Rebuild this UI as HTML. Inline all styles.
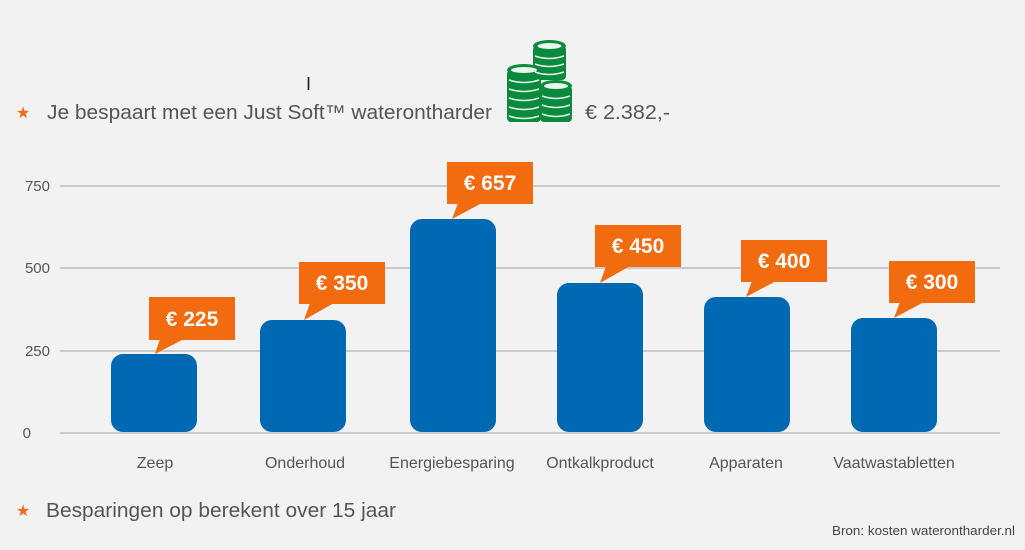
<!DOCTYPE html>
<html><head><meta charset="utf-8"><style>
html,body{margin:0;padding:0;background:#f2f2f2;}
svg{display:block;font-family:"Liberation Sans",Arial,sans-serif;}
</style></head><body>
<svg width="1025" height="550" viewBox="0 0 1025 550" xmlns="http://www.w3.org/2000/svg">
<rect width="1025" height="550" fill="#f2f2f2"/>
<!-- header -->
<text x="16" y="118" font-size="16" fill="#f26b1d">★</text>
<text x="47" y="119" font-size="20" fill="#555" textLength="445" lengthAdjust="spacingAndGlyphs">Je bespaart met een Just Soft™ waterontharder</text>
<text x="585" y="119" font-size="20" fill="#555" textLength="85" lengthAdjust="spacingAndGlyphs">€ 2.382,-</text>
<!-- cursor -->
<text x="306" y="90" font-size="18" fill="#222">I</text>
<!-- coins -->
<g fill="#0a8a3c">
  <rect x="533" y="46" width="33" height="34" rx="4"/>
  <ellipse cx="549.5" cy="46" rx="16.5" ry="6"/>
  <rect x="507" y="70" width="34" height="52" rx="4"/>
  <ellipse cx="524" cy="70" rx="17" ry="6"/>
  <rect x="540" y="86" width="32" height="36" rx="4"/>
  <ellipse cx="556" cy="86" rx="16" ry="6"/>
</g>
<g fill="#e8f5ec">
  <ellipse cx="549.5" cy="46" rx="12" ry="3"/>
  <ellipse cx="524" cy="70" rx="13" ry="3"/>
  <ellipse cx="556" cy="86" rx="12" ry="3"/>
</g>
<g stroke="#e8f5ec" stroke-width="1.5" fill="none">
  <path d="M535 56 Q549 61 564 56 M535 64 Q549 69 564 64 M535 72 Q549 77 564 72"/>
  <path d="M509 80 Q524 85 539 80 M509 89 Q524 94 539 89 M509 98 Q524 103 539 98 M509 107 Q524 112 539 107 M509 116 Q524 121 539 116"/>
  <path d="M542 96 Q556 101 570 96 M542 105 Q556 110 570 105 M542 114 Q556 119 570 114"/>
</g>
<!-- grid -->
<g stroke="#bdbdbd" stroke-width="1.5">
  <line x1="60" y1="186" x2="1000" y2="186"/>
  <line x1="60" y1="268" x2="1000" y2="268"/>
  <line x1="60" y1="351" x2="1000" y2="351"/>
  <line x1="60" y1="433" x2="1000" y2="433"/>
</g>
<g font-size="15" fill="#555" text-anchor="end">
  <text x="50" y="191">750</text>
  <text x="50" y="273">500</text>
  <text x="50" y="356">250</text>
  <text x="31" y="438">0</text>
</g>
<!-- bars -->
<g fill="#0069b4">
  <rect x="111" y="354" width="86" height="78" rx="12"/>
  <rect x="260" y="320" width="86" height="112" rx="12"/>
  <rect x="410" y="219" width="86" height="213" rx="12"/>
  <rect x="557" y="283" width="86" height="149" rx="12"/>
  <rect x="704" y="297" width="86" height="135" rx="12"/>
  <rect x="851" y="318" width="86" height="114" rx="12"/>
</g>
<!-- callouts -->
<g fill="#f26b0f">
  <rect x="149" y="297" width="86" height="43"/><polygon points="160,339 184,339 155,354"/>
  <rect x="299" y="262" width="86" height="42"/><polygon points="310,303 334,303 304,320"/>
  <rect x="447" y="162" width="86" height="42"/><polygon points="458,203 482,203 452,219"/>
  <rect x="595" y="225" width="86" height="42"/><polygon points="606,266 630,266 600,283"/>
  <rect x="741" y="240" width="86" height="42"/><polygon points="752,281 776,281 746,297"/>
  <rect x="889" y="261" width="86" height="42"/><polygon points="900,302 924,302 894,318"/>
</g>
<g font-size="21" font-weight="bold" fill="#fff" text-anchor="middle">
  <text x="192" y="326">€ 225</text>
  <text x="342" y="290">€ 350</text>
  <text x="490" y="190">€ 657</text>
  <text x="638" y="253">€ 450</text>
  <text x="784" y="268">€ 400</text>
  <text x="932" y="289">€ 300</text>
</g>
<g font-size="16" fill="#555" text-anchor="middle">
  <text x="155" y="468">Zeep</text>
  <text x="305" y="468">Onderhoud</text>
  <text x="452" y="468">Energiebesparing</text>
  <text x="600" y="468">Ontkalkproduct</text>
  <text x="746" y="468">Apparaten</text>
  <text x="894" y="468">Vaatwastabletten</text>
</g>
<text x="16" y="516" font-size="16" fill="#f26b1d">★</text>
<text x="46" y="517" font-size="20" fill="#555" textLength="350" lengthAdjust="spacingAndGlyphs">Besparingen op berekent over 15 jaar</text>
<text x="1015" y="535" font-size="13" fill="#444" text-anchor="end" textLength="183" lengthAdjust="spacingAndGlyphs">Bron: kosten waterontharder.nl</text>
</svg>
</body></html>
